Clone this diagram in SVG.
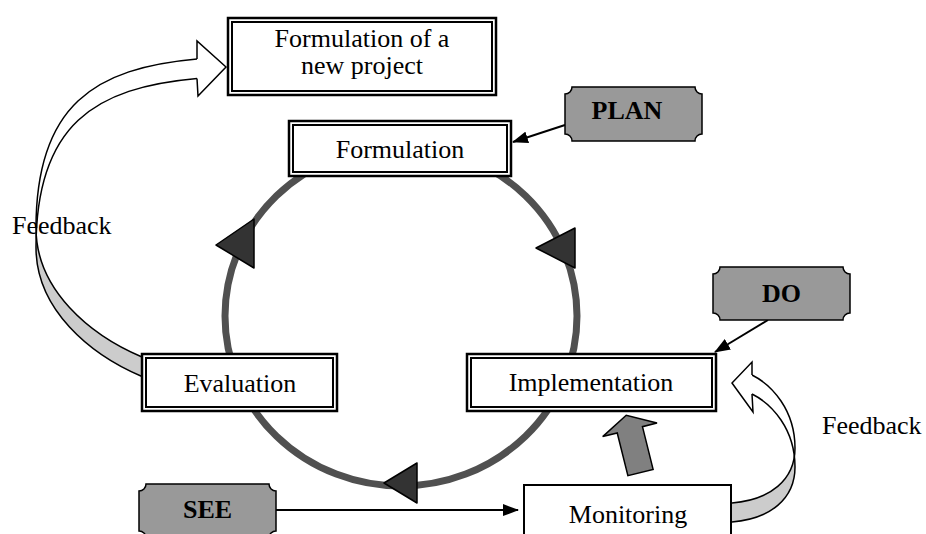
<svg xmlns="http://www.w3.org/2000/svg" width="926" height="534" viewBox="0 0 926 534">
  <defs>
    <style>
      .lbl{font-family:"Liberation Serif","Times New Roman",serif;font-size:26px;fill:#000;text-anchor:middle}
      .tag{font-weight:bold}
      .side{text-anchor:start}
      .frame{fill:#fff;stroke:#000;stroke-width:2.5}
      .inner{fill:none;stroke:#000;stroke-width:2}
      .plain{fill:#fff;stroke:#000;stroke-width:2}
      .plaque{fill:#999;stroke:#000;stroke-width:1.5}
      .link{fill:none;stroke:#000;stroke-width:2}
      .edge{fill:none;stroke:#000;stroke-width:1.5}
      .head{fill:#fff;stroke:#000;stroke-width:1.5;stroke-linejoin:miter}
      .ring{fill:none;stroke:#505050;stroke-width:7}
      .tri{fill:#333;stroke:#000;stroke-width:1.5;stroke-linejoin:round}
      .block{fill:#808080;stroke:#000;stroke-width:1.5}
    </style>
    <marker id="tip" markerWidth="16" markerHeight="12" refX="15" refY="6" orient="auto" markerUnits="userSpaceOnUse">
      <path d="M0,0 L16,6 L0,12 Z" fill="#000"/>
    </marker>
    <clipPath id="leftFront"><rect x="0" y="0" width="300" height="238"/></clipPath>
    <clipPath id="leftBack"><rect x="0" y="238" width="300" height="200"/></clipPath>
    <clipPath id="rightFront"><rect x="700" y="340" width="150" height="117"/></clipPath>
    <clipPath id="rightBack"><rect x="700" y="457" width="150" height="77"/></clipPath>
  </defs>

  <!-- PDCA cycle ring -->
  <g id="cycle">
    <ellipse class="ring" cx="401" cy="316" rx="176" ry="170"/>
    <polygon class="tri" points="216,245 254,219 254,268"/>
    <polygon class="tri" points="536,248 575,228 575,268"/>
    <polygon class="tri" points="384,483 417,463 417,503"/>
  </g>

  <g id="connectors">
    <!-- large curved feedback arrow: Evaluation to new project -->
    <g id="feedback-left">
      <path d="M197,59 C95,68 36,105 36,228 C36,290 90,335 142,357 L142,376.5 C90,354.5 36,309.5 36,247.5 C36,124.5 95,87.5 197,78.5 Z" fill="#fff" clip-path="url(#leftFront)"/>
      <path d="M197,59 C95,68 36,105 36,228 C36,290 90,335 142,357 L142,376.5 C90,354.5 36,309.5 36,247.5 C36,124.5 95,87.5 197,78.5 Z" fill="#ccc" clip-path="url(#leftBack)"/>
      <path class="edge" d="M197,59 C95,68 36,105 36,228 C36,290 90,335 142,357"/>
      <path class="edge" d="M197,78.5 C95,87.5 36,124.5 36,247.5 C36,309.5 90,354.5 142,376.5"/>
      <path class="head" d="M197,59 L197,41 L226,67 L198,96 L197,78.5"/>
    </g>
    <!-- small curved feedback arrow: Monitoring to Implementation -->
    <g id="feedback-right">
      <path d="M752,375 C772,385 795,410 795,448 C795,480 770,500 732,503 L732,522 C770,519 795,499 795,467 C795,429 772,404 752,394 Z" fill="#fff" clip-path="url(#rightFront)"/>
      <path d="M752,375 C772,385 795,410 795,448 C795,480 770,500 732,503 L732,522 C770,519 795,499 795,467 C795,429 772,404 752,394 Z" fill="#ccc" clip-path="url(#rightBack)"/>
      <path class="edge" d="M752,375 C772,385 795,410 795,448 C795,480 770,500 732,503"/>
      <path class="edge" d="M752,394 C772,404 795,429 795,467 C795,499 770,519 732,522"/>
      <path class="head" d="M752,375 L752,362 L732,383 L753,412 L752,394"/>
    </g>
    <!-- block arrow: Monitoring up to Implementation -->
    <path class="block" transform="translate(640.5,472.5) rotate(-14)" d="M-13,0 L-13,-44 L-28,-44 L0,-59 L28,-44 L13,-44 L13,0 Z"/>
    <!-- tag pointers -->
    <path class="link" d="M565,125 L513,142" marker-end="url(#tip)"/>
    <path class="link" d="M768,320 L715,352" marker-end="url(#tip)"/>
    <path class="link" d="M276,510 L518,510" marker-end="url(#tip)"/>
  </g>

  <g id="new-project">
    <rect class="frame" x="228" y="18" width="268" height="77"/>
    <rect class="inner" x="232" y="22" width="260" height="69"/>
    <text class="lbl" x="362" y="47">Formulation of a</text>
    <text class="lbl" x="362" y="74">new project</text>
  </g>

  <g id="formulation">
    <rect class="frame" x="289" y="121" width="222" height="55"/>
    <rect class="inner" x="293" y="125" width="214" height="47"/>
    <text class="lbl" x="400" y="158">Formulation</text>
  </g>

  <g id="evaluation">
    <rect class="frame" x="142" y="354" width="195" height="57"/>
    <rect class="inner" x="146" y="358" width="187" height="49"/>
    <text class="lbl" x="240" y="392">Evaluation</text>
  </g>

  <g id="implementation">
    <rect class="frame" x="467" y="354" width="249" height="57"/>
    <rect class="inner" x="471" y="358" width="241" height="49"/>
    <text class="lbl" x="591" y="391">Implementation</text>
  </g>

  <g id="monitoring">
    <rect class="plain" x="524" y="485" width="207" height="60"/>
    <text class="lbl" x="628" y="523">Monitoring</text>
  </g>

  <g id="plan">
    <path class="plaque" d="M572,87 H695 A7,7 0 0 0 702,94 V134 A7,7 0 0 0 695,141 H572 A7,7 0 0 0 565,134 V94 A7,7 0 0 0 572,87 Z"/>
    <text class="lbl tag" x="627" y="119">PLAN</text>
  </g>

  <g id="do">
    <path class="plaque" d="M720,267 H843 A7,7 0 0 0 850,274 V313 A7,7 0 0 0 843,320 H720 A7,7 0 0 0 713,313 V274 A7,7 0 0 0 720,267 Z"/>
    <text class="lbl tag" x="781.5" y="302">DO</text>
  </g>

  <g id="see">
    <path class="plaque" d="M146,484 H269 A7,7 0 0 0 276,491 V531 A7,7 0 0 0 269,538 H146 A7,7 0 0 0 139,531 V491 A7,7 0 0 0 146,484 Z"/>
    <text class="lbl tag" x="207.5" y="518">SEE</text>
  </g>

  <g id="feedback-labels">
    <text class="lbl side" x="12" y="234">Feedback</text>
    <text class="lbl side" x="822" y="434">Feedback</text>
  </g>
</svg>
